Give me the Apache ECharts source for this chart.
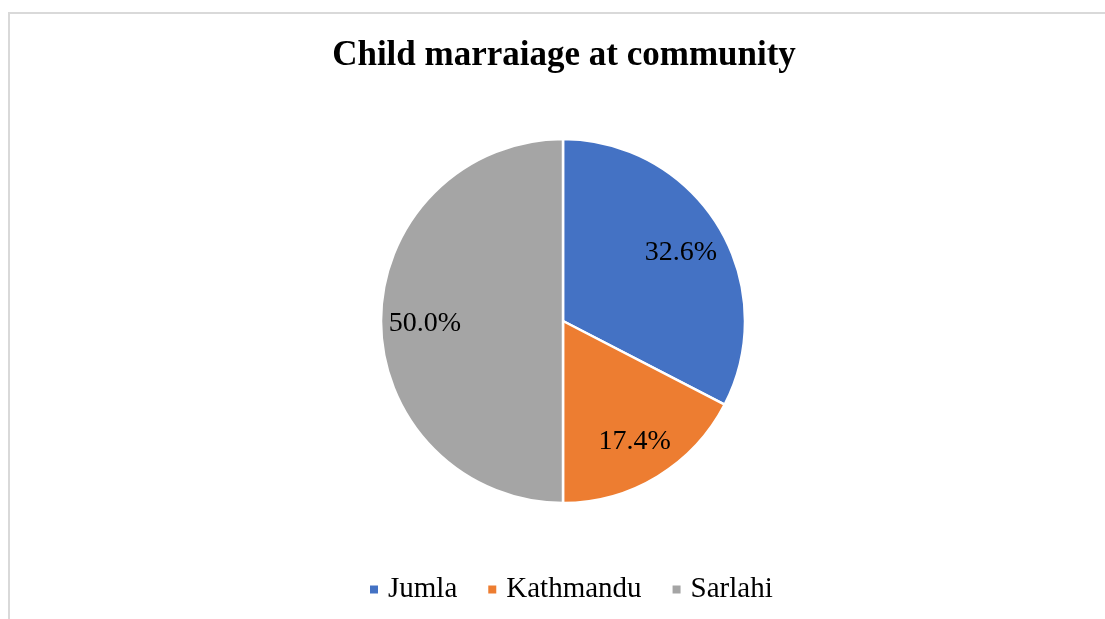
<!DOCTYPE html>
<html>
<head>
<meta charset="utf-8">
<script src="https://cdn.jsdelivr.net/npm/echarts@6/dist/echarts.min.js"></script>
<style>
html,body{margin:0;padding:0;background:#fff;overflow:hidden;}
#wrap{position:absolute;left:0;top:0;width:1105px;height:619px;overflow:hidden;}
#chart{position:absolute;left:8px;top:12px;width:1110px;height:620px;border-left:2px solid #d9d9d9;border-top:2px solid #d9d9d9;box-sizing:border-box;}
</style>
</head>
<body>
<div id="wrap"><div id="chart"></div></div>
<script>
var titleText = 'Child marraiage at community';
var categories = ['Jumla', 'Kathmandu', 'Sarlahi'];
var values = [32.6, 17.4, 50.0];
var colors = ['#4472C4', '#ED7D31', '#A5A5A5'];

var font = '"Liberation Serif", "Times New Roman", serif';
var data = categories.map(function (c, i) {
  return { name: c, value: values[i], itemStyle: { color: colors[i] } };
});
var chart = echarts.init(document.getElementById('chart'));
chart.setOption({
  animation: false,
  title: {
    text: titleText,
    left: 'center',
    top: 19,
    textStyle: { fontFamily: font, fontSize: 35, fontWeight: 'bold', color: '#000' }
  },
  legend: {
    data: categories,
    left: 353,
    top: 556,
    icon: 'rect',
    itemWidth: 10,
    itemHeight: 10,
    itemGap: 29,
    textStyle: { fontFamily: font, fontSize: 29, color: '#000', padding: [0, 0, 0, 4] }
  },
  series: [
    {
      type: 'pie',
      center: [553, 307],
      radius: [0, 182],
      startAngle: 90,
      clockwise: true,
      data: data,
      label: { show: false },
      labelLine: { show: false },
      itemStyle: { borderColor: '#fff', borderWidth: 2.5 },
      emphasis: { disabled: true }
    },
    {
      type: 'pie',
      center: [553, 310],
      radius: [88, 182],
      startAngle: 90,
      clockwise: true,
      silent: true,
      legendHoverLink: false,
      data: categories.map(function (c, i) { return { name: c + ' ', value: values[i] }; }),
      itemStyle: { color: 'rgba(0,0,0,0)' },
      label: {
        show: true,
        position: 'inside',
        formatter: function (p) { return p.value.toFixed(1) + '%'; },
        fontFamily: font,
        fontSize: 28,
        color: '#000'
      },
      labelLine: { show: false },
      emphasis: { disabled: true }
    }
  ]
});
</script>
</body>
</html>
